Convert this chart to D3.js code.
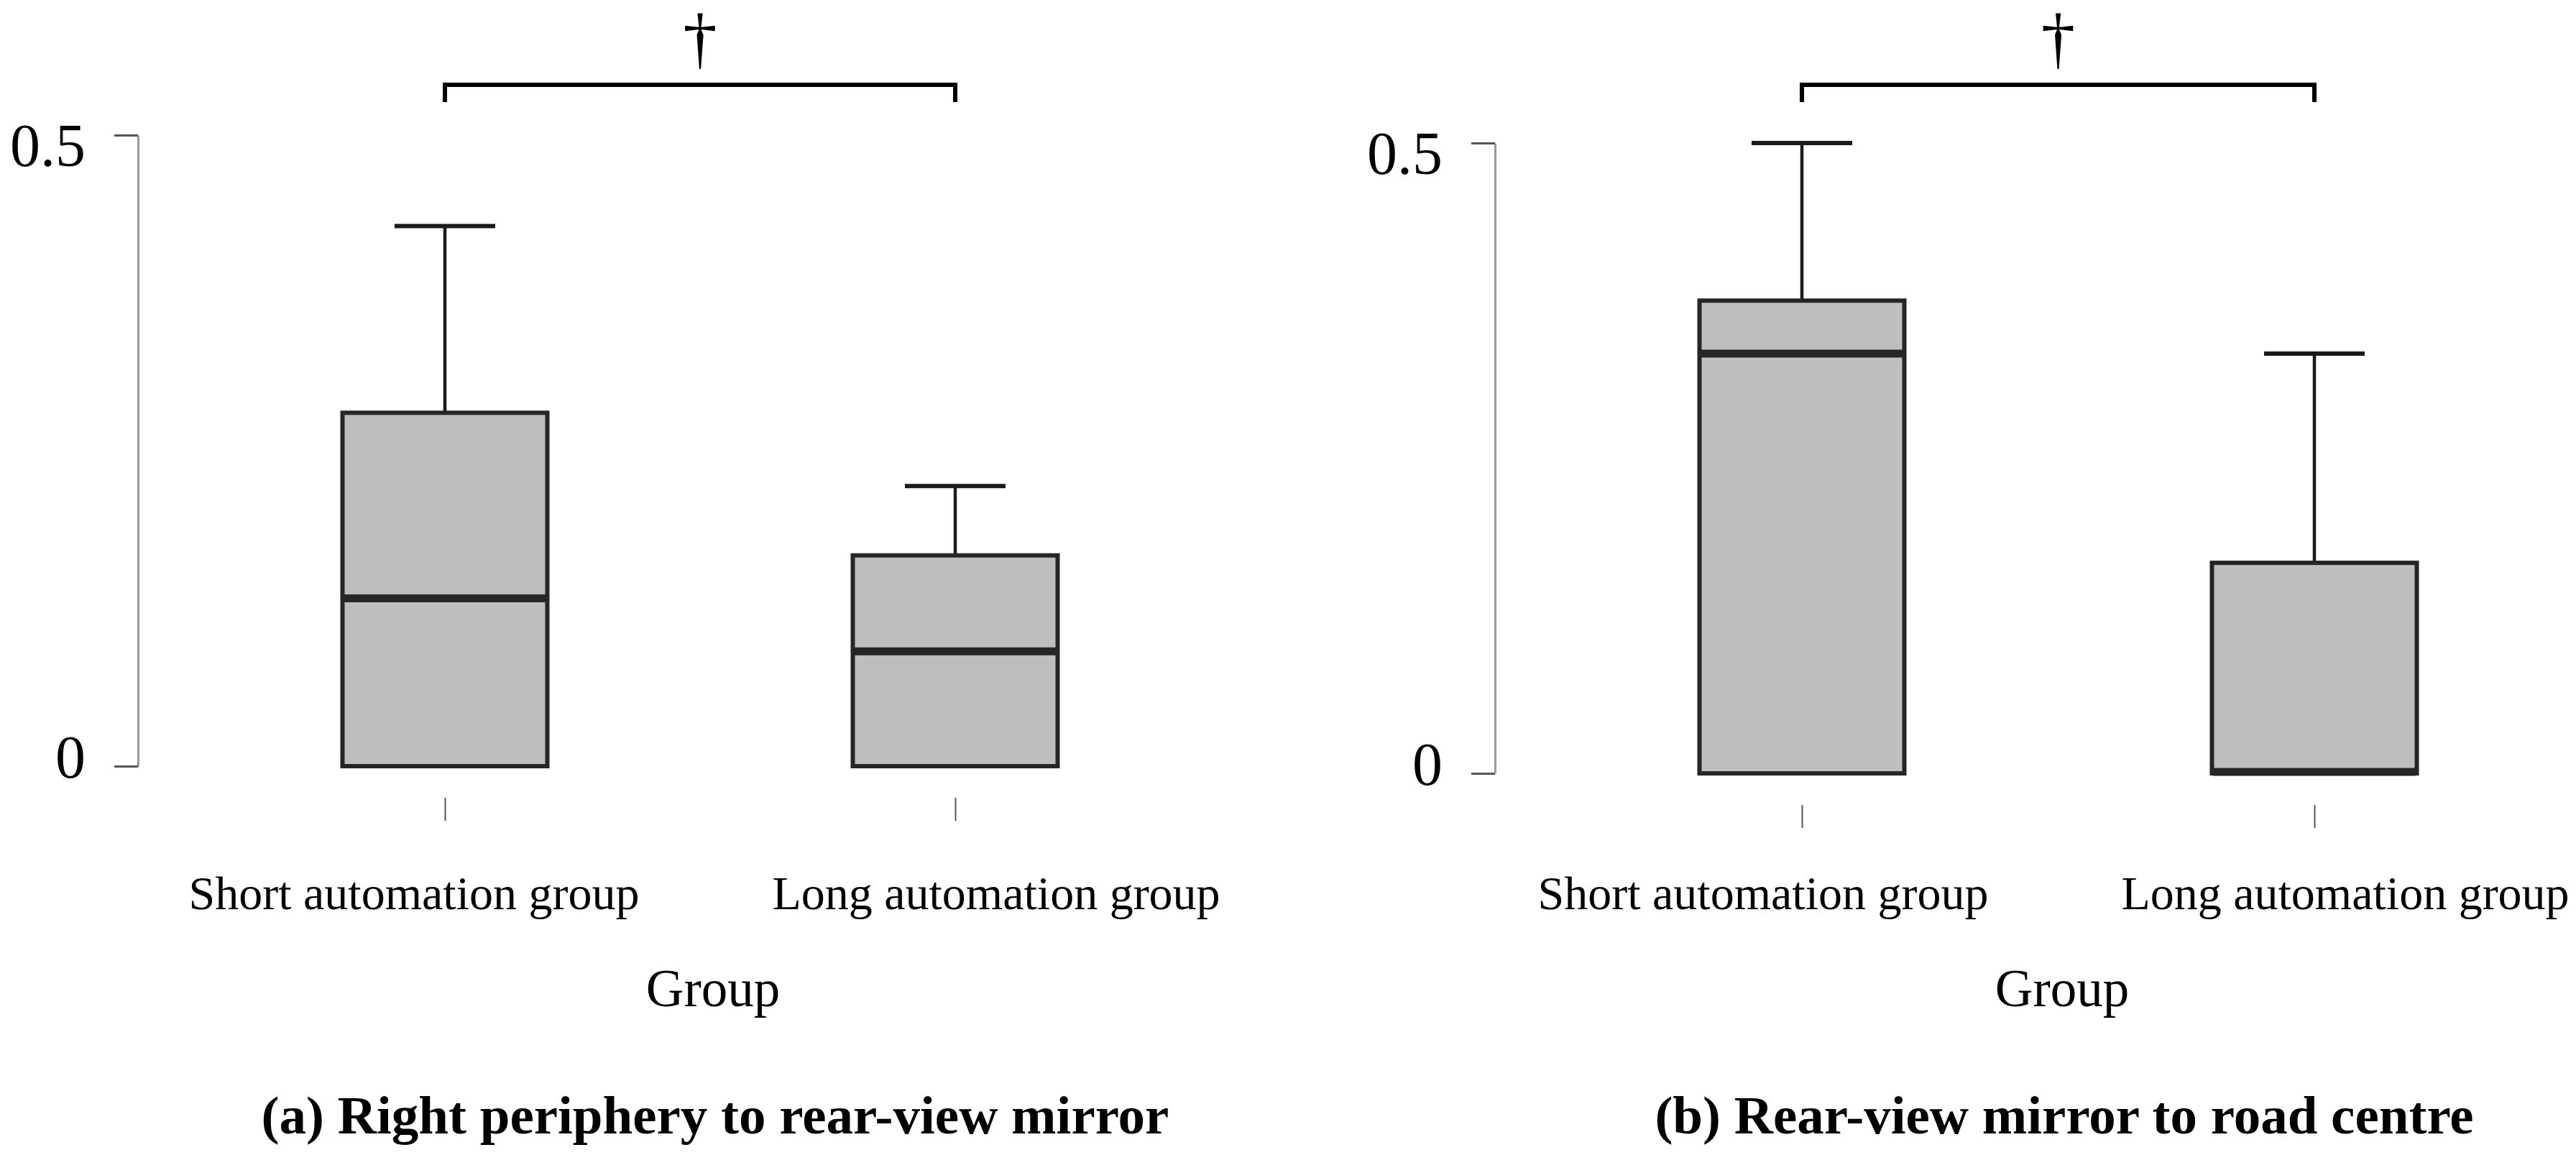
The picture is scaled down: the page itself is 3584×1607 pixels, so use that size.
<!DOCTYPE html>
<html>
<head>
  <meta charset="utf-8">
  <title>Glance transition box plots</title>
  <script src="https://d3js.org/d3.v7.min.js"></script>
  <style>
    body { margin: 0; background: #fff; }
    svg { display: block; }
    text { font-family: "Liberation Serif", "Times New Roman", serif; fill: #000; }
    .box { fill: #bebebe; stroke: #262626; stroke-width: 6px; }
    .median { stroke: #262626; stroke-width: 11px; }
    .whisker { stroke: #1a1a1a; stroke-width: 4.5px; }
    .cap { stroke: #1a1a1a; stroke-width: 6px; }
    .yaxis .domain { stroke: #9a9a9a; stroke-width: 3px; }
    .yaxis .tick line { stroke: #555; stroke-width: 3px; }
    .yaxis .tick text { font-size: 84px; }
    .xaxis .tick line { stroke: #555; stroke-width: 2px; }
    .bracket { fill: none; stroke: #000; stroke-width: 6px; }
    .cat { font-size: 66px; }
    .xtitle { font-size: 73px; }
    .ptitle { font-size: 75px; font-weight: bold; }
    .sig { font-size: 95px; }
  </style>
</head>
<body>
<script>
  // Groups and tick values
  const categories = ["Short automation group", "Long automation group"];
  const yTickValues = [0, 0.5];
  const panelTitles = ["(a) Right periphery to rear-view mirror", "(b) Rear-view mirror to road centre"];
  const xAxisTitle = "Group";
  const sigMark = "\u2020";

  // (a) right periphery to rear-view mirror, one value per group
  const lowerA  = [0, 0];
  const q1A     = [0, 0];
  const medianA = [0.133, 0.091];
  const q3A     = [0.280, 0.167];
  const upperA  = [0.428, 0.222];

  // (b) rear-view mirror to road centre
  const lowerB  = [0, 0];
  const q1B     = [0, 0];
  const medianB = [0.333, 0];
  const q3B     = [0.375, 0.167];
  const upperB  = [0.5, 0.333];

  const width = 3584;
  const height = 1607;
  const boxWidth = 285;
  const capWidth = 140;

  const svg = d3.select("body").append("svg")
      .attr("width", width)
      .attr("height", height);

  // where each panel sits on the page
  const panels = [
    { title: panelTitles[0], lower: lowerA, q1: q1A, median: medianA, q3: q3A, upper: upperA,
      axisX: 192, y0: 1066, yTop: 188, xRange: [619, 1329], textMid: 992 },
    { title: panelTitles[1], lower: lowerB, q1: q1B, median: medianB, q3: q3B, upper: upperB,
      axisX: 2080, y0: 1076, yTop: 199, xRange: [2507, 3220], textMid: 2869 }
  ];

  panels.forEach(p => {
    const g = svg.append("g");

    const x = d3.scalePoint().domain(categories).range(p.xRange);
    const y = d3.scaleLinear().domain([0, 0.5]).range([p.y0, p.yTop]);

    // y axis: light spine, darker ticks, labels a bit squeezed toward the middle
    const yAxis = g.append("g")
        .attr("class", "yaxis")
        .attr("transform", `translate(${p.axisX},0)`)
        .call(d3.axisLeft(y).tickValues(yTickValues).tickSize(33).tickSizeOuter(0).tickPadding(40)
          .tickFormat(d => d === 0 ? "0" : d3.format(".1f")(d)));
    yAxis.selectAll(".tick text")
        .attr("dy", null)
        .attr("y", d => d === 0 ? 15 : 42);

    // x ticks, detached below the plot
    g.append("g")
        .attr("class", "xaxis")
        .attr("transform", `translate(0,${p.y0 + 44})`)
        .call(d3.axisBottom(x).tickSize(32).tickFormat(""))
        .call(s => s.select(".domain").remove());

    const rows = categories.map((c, i) => ({
      cat: c, lower: p.lower[i], q1: p.q1[i], median: p.median[i], q3: p.q3[i], upper: p.upper[i]
    }));

    const box = g.selectAll(".grp").data(rows).enter().append("g").attr("class", "grp");

    box.append("line").attr("class", "whisker")
        .attr("x1", d => x(d.cat)).attr("x2", d => x(d.cat))
        .attr("y1", d => y(d.q3)).attr("y2", d => y(d.upper));
    box.append("line").attr("class", "cap")
        .attr("x1", d => x(d.cat) - capWidth / 2).attr("x2", d => x(d.cat) + capWidth / 2)
        .attr("y1", d => y(d.upper)).attr("y2", d => y(d.upper));
    box.append("rect").attr("class", "box")
        .attr("x", d => x(d.cat) - boxWidth / 2)
        .attr("width", boxWidth)
        .attr("y", d => y(d.q3))
        .attr("height", d => y(d.q1) - y(d.q3));
    box.append("line").attr("class", "median")
        .attr("x1", d => x(d.cat) - boxWidth / 2 + 2).attr("x2", d => x(d.cat) + boxWidth / 2 - 2)
        .attr("y1", d => y(d.median) - (d.median === d.q1 ? 2 : 0))
        .attr("y2", d => y(d.median) - (d.median === d.q1 ? 2 : 0));

    // significance bracket between the two groups
    const bx1 = x(categories[0]), bx2 = x(categories[1]);
    g.append("path").attr("class", "bracket")
        .attr("d", `M${bx1},142V118H${bx2}V142`);
    g.append("text").attr("class", "sig")
        .attr("x", (bx1 + bx2) / 2).attr("y", 85)
        .attr("text-anchor", "middle")
        .text(sigMark);

    // category labels spread around the panel text centre
    const xLab = d3.scalePoint().domain(categories).range([p.textMid - 416, p.textMid + 394]);
    g.selectAll(".cat").data(categories).enter().append("text")
        .attr("class", "cat")
        .attr("x", d => xLab(d)).attr("y", 1265)
        .attr("text-anchor", "middle")
        .text(d => d);

    g.append("text").attr("class", "xtitle")
        .attr("x", p.textMid).attr("y", 1400)
        .attr("text-anchor", "middle")
        .text(xAxisTitle);

    g.append("text").attr("class", "ptitle")
        .attr("x", p.textMid + 3).attr("y", 1577)
        .attr("text-anchor", "middle")
        .text(p.title);
  });
</script>
</body>
</html>
